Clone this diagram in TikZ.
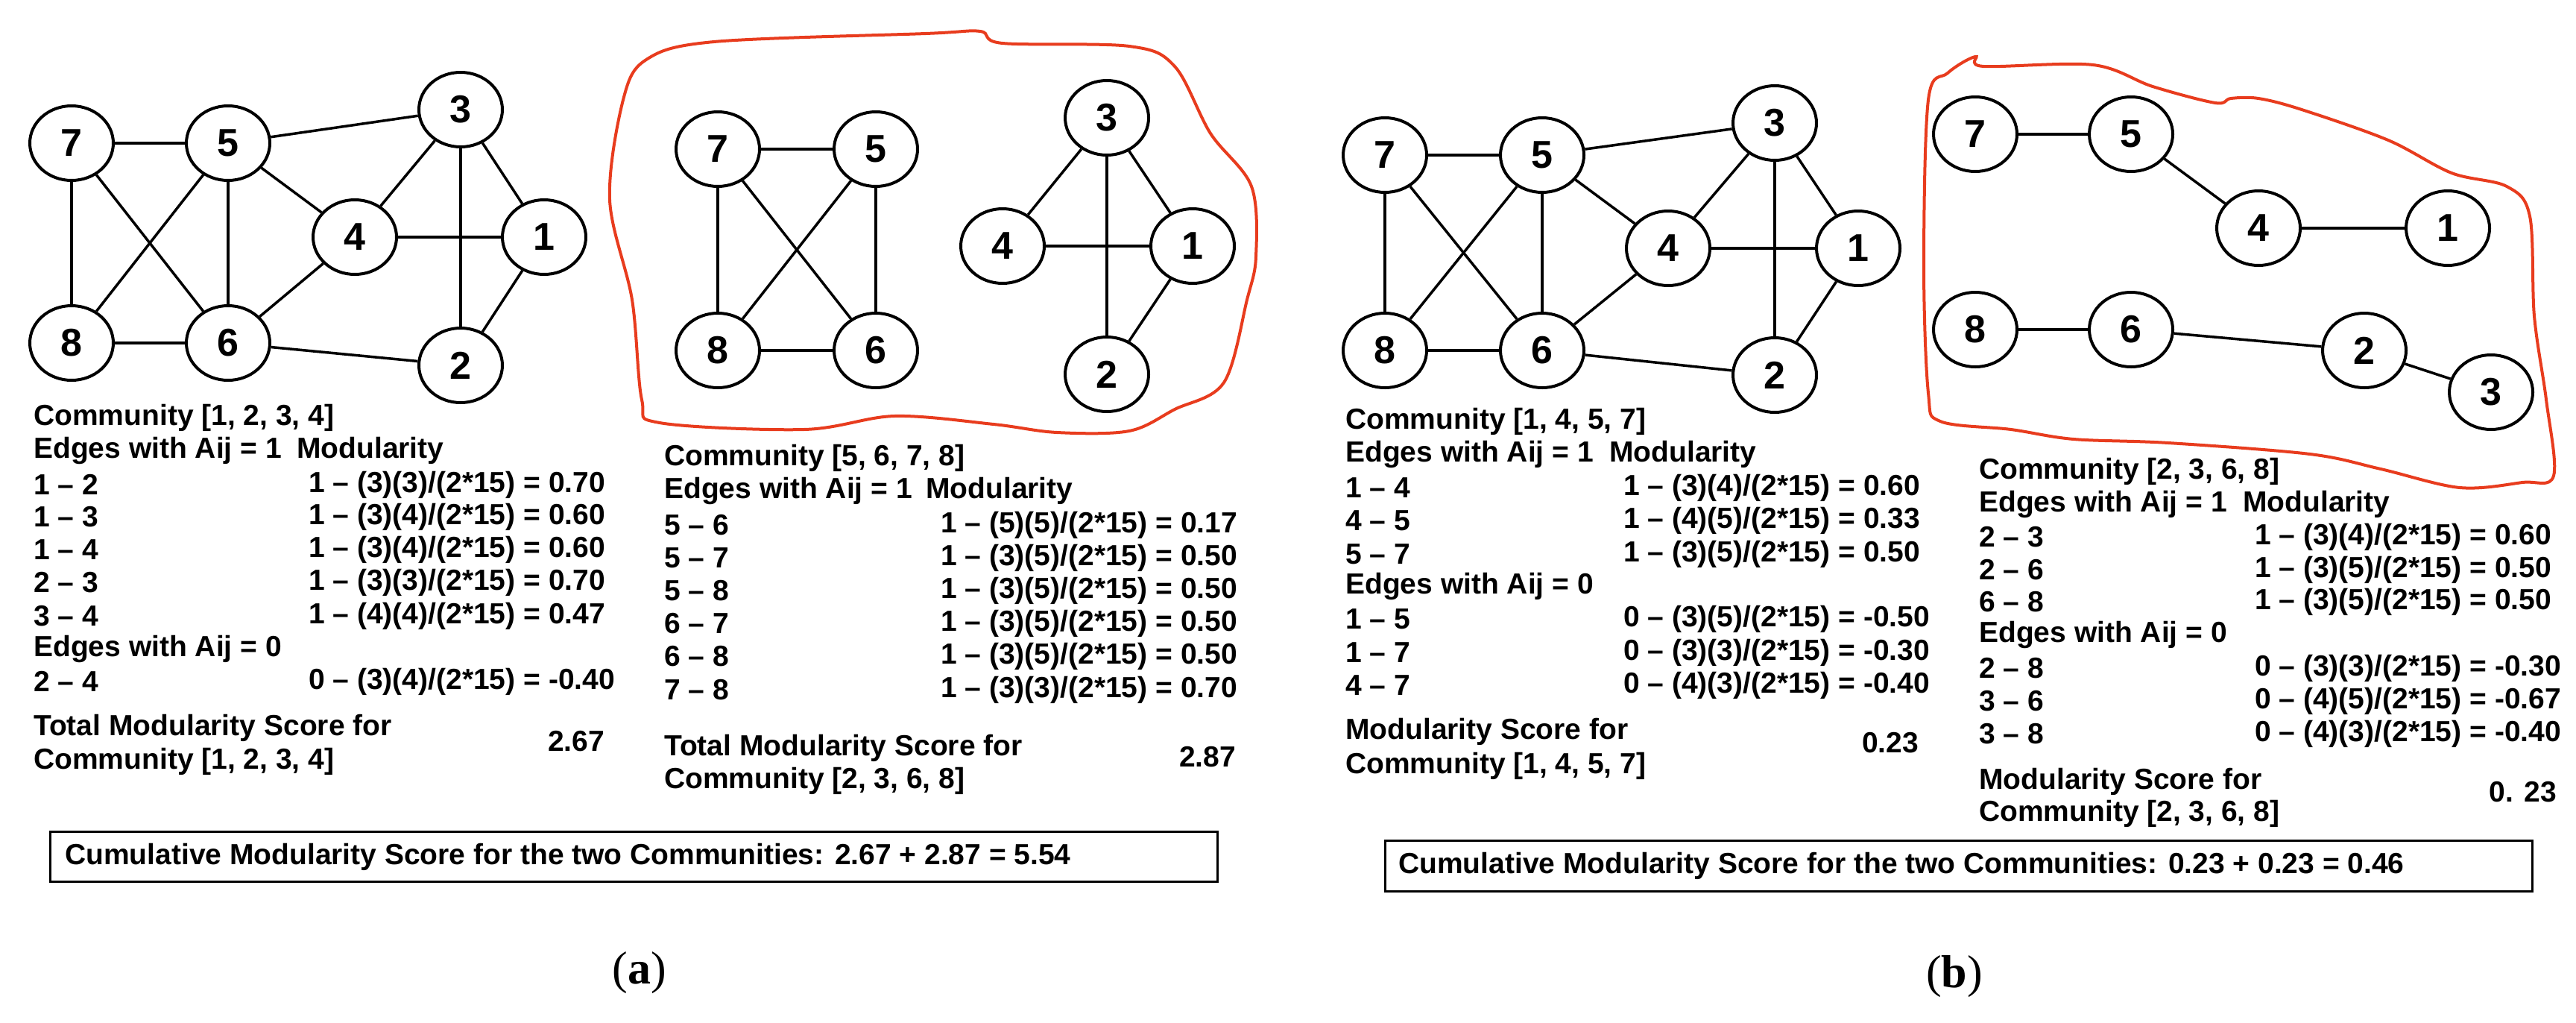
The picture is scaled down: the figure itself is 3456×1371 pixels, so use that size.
\documentclass[tikz,border=0pt]{standalone}
\usepackage{fontspec}
\setmainfont{Liberation Sans}
\newfontfamily\serifcap{Liberation Serif}
\usetikzlibrary{shapes.geometric}
\definecolor{cloudred}{RGB}{232,60,30}
\newcommand{\qsl}{/}
\begin{document}
\begin{tikzpicture}[x=1pt,y=-1pt,
  nd/.style={ellipse,draw,line width=4pt,minimum width=112pt,minimum height=100pt,inner sep=0pt,font=\fontsize{52}{52}\selectfont\bfseries},
  ed/.style={line width=3.5pt},
  tx/.style={anchor=west,inner sep=0pt,font=\fontsize{39}{42}\selectfont\bfseries},
  txr/.style={anchor=east,inner sep=0pt,font=\fontsize{39}{42}\selectfont\bfseries},
  cloud/.style={draw=cloudred,line width=4pt}]
\useasboundingbox (0,0) rectangle (3456,1371);
% ===== panel a full graph
\node[nd] (a7) at (96,192) {7};
\node[nd] (a5) at (306,192) {5};
\node[nd] (a3) at (618,147) {3};
\node[nd] (a4) at (476,318) {4};
\node[nd] (a1) at (730,318) {1};
\node[nd] (a8) at (96,460) {8};
\node[nd] (a6) at (306,460) {6};
\node[nd] (a2) at (618,490) {2};
\foreach \u/\v in {7/5,7/8,7/6,5/8,5/6,5/3,5/4,8/6,6/4,6/2,4/3,4/1,3/1,3/2,1/2}
  \draw[ed] (a\u) -- (a\v);
% ===== panel a split graph
\draw[cloud] plot[smooth cycle,tension=0.55] coordinates{(867,80) (958,56) (1242,45) (1315,42) (1345,58) (1515,62) (1576,89) (1624,179) (1679,250) (1685,344) (1673,402) (1642,513) (1576,549) (1515,578) (1418,580) (1333,569) (1200,558) (1079,576) (885,567) (861,536) (848,402) (818,268) (836,134)};
\node[nd] (c7) at (963,200) {7};
\node[nd] (c5) at (1175,200) {5};
\node[nd] (c8) at (963,470) {8};
\node[nd] (c6) at (1175,470) {6};
\node[nd] (c3) at (1485,158) {3};
\node[nd] (c4) at (1345,330) {4};
\node[nd] (c1) at (1600,330) {1};
\node[nd] (c2) at (1485,502) {2};
\foreach \u/\v in {7/5,7/8,7/6,5/8,5/6,8/6,3/4,3/1,3/2,4/1,1/2}
  \draw[ed] (c\u) -- (c\v);
% ===== panel a text left
\node[tx] (ta1) at (45,560) {Community [1, 2, 3, 4]};
\node[tx] (ta2) at (45,604) {Edges with Aij = 1};
\node[tx] (ta3) at (398,604) {Modularity};
\foreach \e/\f/\yy in {1 – 2/1 – (3)(3)\qsl(2*15) = 0.70/650, 1 – 3/1 – (3)(4)\qsl(2*15) = 0.60/693, 1 – 4/1 – (3)(4)\qsl(2*15) = 0.60/737, 2 – 3/1 – (3)(3)\qsl(2*15) = 0.70/781, 3 – 4/1 – (4)(4)\qsl(2*15) = 0.47/826, 2 – 4/0 – (3)(4)\qsl(2*15) = -0.40/914}{
  \node[tx] at (45,\yy) {\e};
  \node[tx] at (414,\yy) {\f};}
\node[tx] (ta4) at (45,870) {Edges with Aij = 0};
\node[tx] (ta5) at (45,976) {Total Modularity Score for};
\node[tx] (ta6) at (45,1021) {Community [1, 2, 3, 4]};
\node[tx] (ta7) at (735,994) {2.67};
% ===== panel a text middle
\node[tx] (tb1) at (891,614) {Community [5, 6, 7, 8]};
\node[tx] (tb2) at (891,658) {Edges with Aij = 1};
\node[tx] (tb3) at (1242,658) {Modularity};
\foreach \e/\f/\yy in {5 – 6/1 – (5)(5)\qsl(2*15) = 0.17/704, 5 – 7/1 – (3)(5)\qsl(2*15) = 0.50/748, 5 – 8/1 – (3)(5)\qsl(2*15) = 0.50/792, 6 – 7/1 – (3)(5)\qsl(2*15) = 0.50/836, 6 – 8/1 – (3)(5)\qsl(2*15) = 0.50/880, 7 – 8/1 – (3)(3)\qsl(2*15) = 0.70/925}{
  \node[tx] at (891,\yy) {\e};
  \node[tx] at (1262,\yy) {\f};}
\node[tx] (tb5) at (891,1003) {Total Modularity Score for};
\node[tx] (tb6) at (891,1047) {Community [2, 3, 6, 8]};
\node[tx] (tb7) at (1582,1015) {2.87};
% ===== box a
\draw[line width=3pt] (67,1115) rectangle (1633,1182);
\node[tx] (ca) at (87,1149) {Cumulative Modularity Score for the two Communities: 2.67 + 2.87 = 5.54};
\node[inner sep=0pt,font=\serifcap\fontsize{62}{62}\selectfont] (la) at (858,1305) {(\textbf{a})};
% ===== panel b full graph
\node[nd] (b7) at (1858,208) {7};
\node[nd] (b5) at (2069,208) {5};
\node[nd] (b3) at (2381,165) {3};
\node[nd] (b4) at (2238,333) {4};
\node[nd] (b1) at (2493,333) {1};
\node[nd] (b8) at (1858,470) {8};
\node[nd] (b6) at (2069,470) {6};
\node[nd] (b2) at (2381,503) {2};
\foreach \u/\v in {7/5,7/8,7/6,5/8,5/6,5/3,5/4,8/6,6/4,6/2,4/3,4/1,3/1,3/2,1/2}
  \draw[ed] (b\u) -- (b\v);
% ===== panel b split graph
\draw[cloud] plot[smooth cycle,tension=0.55] coordinates{(2650,76) (2661,89) (2808,87) (2888,116) (2972,138) (2993,132) (3030,132) (3088,147) (3204,188) (3289,232) (3363,250) (3394,290) (3400,424) (3416,536) (3426,638) (3384,647) (3300,654) (3194,629) (3099,609) (2909,594) (2782,589) (2698,576) (2603,565) (2587,527) (2581,357) (2587,134) (2613,98)};
\node[nd] (d7) at (2650,180) {7};
\node[nd] (d5) at (2859,180) {5};
\node[nd] (d4) at (3030,306) {4};
\node[nd] (d1) at (3284,306) {1};
\node[nd] (d8) at (2650,442) {8};
\node[nd] (d6) at (2859,442) {6};
\node[nd] (d2) at (3172,470) {2};
\node[nd] (d3) at (3342,526) {3};
\foreach \u/\v in {7/5,5/4,4/1,8/6,6/2,2/3}
  \draw[ed] (d\u) -- (d\v);
% ===== panel b text left
\node[tx] (tc1) at (1805,565) {Community [1, 4, 5, 7]};
\node[tx] (tc2) at (1805,609) {Edges with Aij = 1};
\node[tx] (tc3) at (2159,609) {Modularity};
\foreach \e/\f/\yy in {1 – 4/1 – (3)(4)\qsl(2*15) = 0.60/654, 4 – 5/1 – (4)(5)\qsl(2*15) = 0.33/698, 5 – 7/1 – (3)(5)\qsl(2*15) = 0.50/743, 1 – 5/0 – (3)(5)\qsl(2*15) = -0.50/830, 1 – 7/0 – (3)(3)\qsl(2*15) = -0.30/875, 4 – 7/0 – (4)(3)\qsl(2*15) = -0.40/919}{
  \node[tx] at (1805,\yy) {\e};
  \node[tx] at (2178,\yy) {\f};}
\node[tx] (tc4) at (1805,786) {Edges with Aij = 0};
\node[tx] (tc5) at (1805,981) {Modularity Score for};
\node[tx] (tc6) at (1805,1027) {Community [1, 4, 5, 7]};
\node[tx] (tc7) at (2498,996) {0.23};
% ===== panel b text right
\node[tx] (td1) at (2655,632) {Community [2, 3, 6, 8]};
\node[tx] (td2) at (2655,676) {Edges with Aij = 1};
\node[tx] (td3) at (3009,676) {Modularity};
\foreach \e/\f/\yy in {2 – 3/1 – (3)(4)\qsl(2*15) = 0.60/720, 2 – 6/1 – (3)(5)\qsl(2*15) = 0.50/764, 6 – 8/1 – (3)(5)\qsl(2*15) = 0.50/807, 2 – 8/0 – (3)(3)\qsl(2*15) = -0.30/896, 3 – 6/0 – (4)(5)\qsl(2*15) = -0.67/940, 3 – 8/0 – (4)(3)\qsl(2*15) = -0.40/984}{
  \node[tx] at (2655,\yy) {\e};
  \node[tx] at (3025,\yy) {\f};}
\node[tx] (td4) at (2655,851) {Edges with Aij = 0};
\node[tx] (td5) at (2655,1048) {Modularity Score for};
\node[tx] (td6) at (2655,1091) {Community [2, 3, 6, 8]};
\node[txr] (td7) at (3430,1062) {0. 23};
% ===== box b
\draw[line width=3pt] (1858,1127) rectangle (3397,1195);
\node[tx] (cb) at (1876,1161) {Cumulative Modularity Score for the two Communities: 0.23 + 0.23 = 0.46};
\node[inner sep=0pt,font=\serifcap\fontsize{62}{62}\selectfont] (lb) at (2622,1310) {(\textbf{b})};
\end{tikzpicture}
\end{document}
